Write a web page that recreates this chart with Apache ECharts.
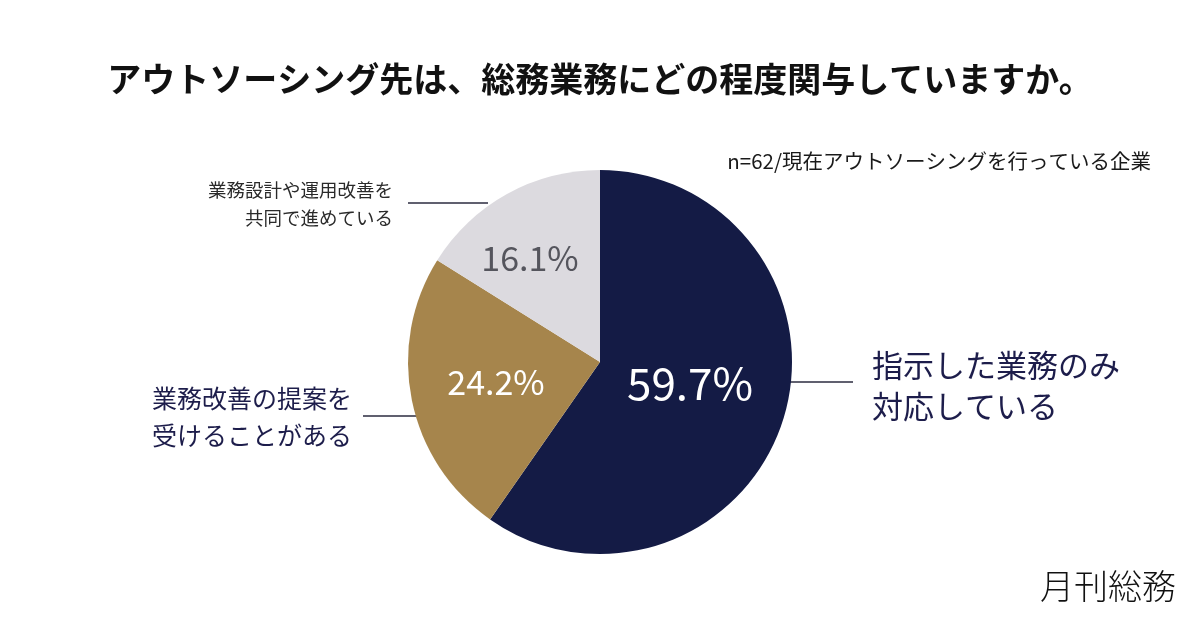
<!DOCTYPE html>
<html>
<head>
<meta charset="utf-8">
<script src="https://cdn.jsdelivr.net/npm/echarts@6/dist/echarts.min.js"></script>
<style>
  html, body { margin: 0; padding: 0; background: #fff; }
  #main { width: 1200px; height: 628px; }
</style>
</head>
<body>
<div id="main"></div>
<script>
var myChart = echarts.init(document.getElementById('main'));

// answers, clockwise from 12 o'clock
const categories = [
  '指示した業務のみ\n対応している',
  '業務改善の提案を\n受けることがある',
  '業務設計や運用改善を\n共同で進めている'
];
const shares = [59.7, 24.2, 16.1];

const sliceColors = ['#141b45', '#a6854c', '#dcdadf'];
const innerColors = ['#ffffff', '#ffffff', '#55555d'];
const innerSizes = [44, 34, 34];

const FONT = '"Noto Sans CJK JP", "Noto Sans", sans-serif';

const pieData = categories.map(function (name, i) {
  return {
    name: name,
    value: shares[i],
    itemStyle: { color: sliceColors[i] },
    label: { color: innerColors[i], fontSize: innerSizes[i] }
  };
});

// outer text + leader lines (placed by hand, like the original layout)
const outerLabel = [
  { x: 872, y: 386, align: 'left', line: [[780, 382], [853, 382], [853, 382]],
    style: { fontSize: 31, lineHeight: 41, color: '#1d1d4b' } },
  { x: 152, y: 417, align: 'left', line: [[363, 416], [417, 416], [417, 416]],
    style: { fontSize: 25, lineHeight: 37, color: '#1d1d4b' } },
  { x: 393, y: 204, align: 'right', line: [[408, 203], [488, 203], [488, 203]],
    style: { fontSize: 18.5, lineHeight: 28, color: '#2a2a2a', align: 'right' } }
];
const innerPos = [[690, 383], [496, 382], [530, 258]];

const option = {
  backgroundColor: '#ffffff',
  animation: false,
  title: [
    {
      text: 'アウトソーシング先は、総務業務にどの程度関与していますか。',
      left: 'center',
      top: 57,
      textStyle: { fontFamily: FONT, fontSize: 34, fontWeight: 'bold', color: '#111111' }
    },
    {
      text: 'n=62/現在アウトソーシングを行っている企業',
      right: 44,
      top: 146,
      textStyle: { fontFamily: FONT, fontSize: 20.5, fontWeight: 'normal', color: '#1a1a1a' }
    },
    {
      text: '月刊総務',
      right: 19,
      top: 564,
      textStyle: { fontFamily: FONT, fontSize: 34, fontWeight: 300, color: '#111111' }
    }
  ],
  series: [
    {
      type: 'pie',
      center: [600, 362],
      radius: 192,
      startAngle: 90,
      silent: true,
      avoidLabelOverlap: false,
      itemStyle: { borderWidth: 0 },
      label: {
        show: true,
        position: 'inside',
        formatter: '{c}%',
        fontFamily: FONT
      },
      labelLine: { show: false },
      labelLayout: function (params) {
        const p = innerPos[params.dataIndex];
        return { x: p[0], y: p[1], align: 'center', verticalAlign: 'middle' };
      },
      data: pieData
    },
    {
      type: 'pie',
      center: [600, 362],
      radius: 192,
      startAngle: 90,
      silent: true,
      avoidLabelOverlap: false,
      itemStyle: { color: 'transparent', borderWidth: 0 },
      label: {
        show: true,
        position: 'outside',
        formatter: function (p) {
          return '{t' + p.dataIndex + '|' + p.name.split('\n').join('}\n{t' + p.dataIndex + '|') + '}';
        },
        rich: {
          t0: Object.assign({ fontFamily: FONT }, outerLabel[0].style),
          t1: Object.assign({ fontFamily: FONT }, outerLabel[1].style),
          t2: Object.assign({ fontFamily: FONT }, outerLabel[2].style)
        }
      },
      labelLine: {
        show: true,
        lineStyle: { color: '#2b2b3f', width: 1.5 }
      },
      labelLayout: function (params) {
        const o = outerLabel[params.dataIndex];
        return {
          x: o.x,
          y: o.y,
          align: o.align,
          verticalAlign: 'middle',
          labelLinePoints: o.line
        };
      },
      data: categories.map(function (name, i) {
        return { name: name, value: shares[i] };
      })
    }
  ]
};

myChart.setOption(option);
</script>
</body>
</html>
